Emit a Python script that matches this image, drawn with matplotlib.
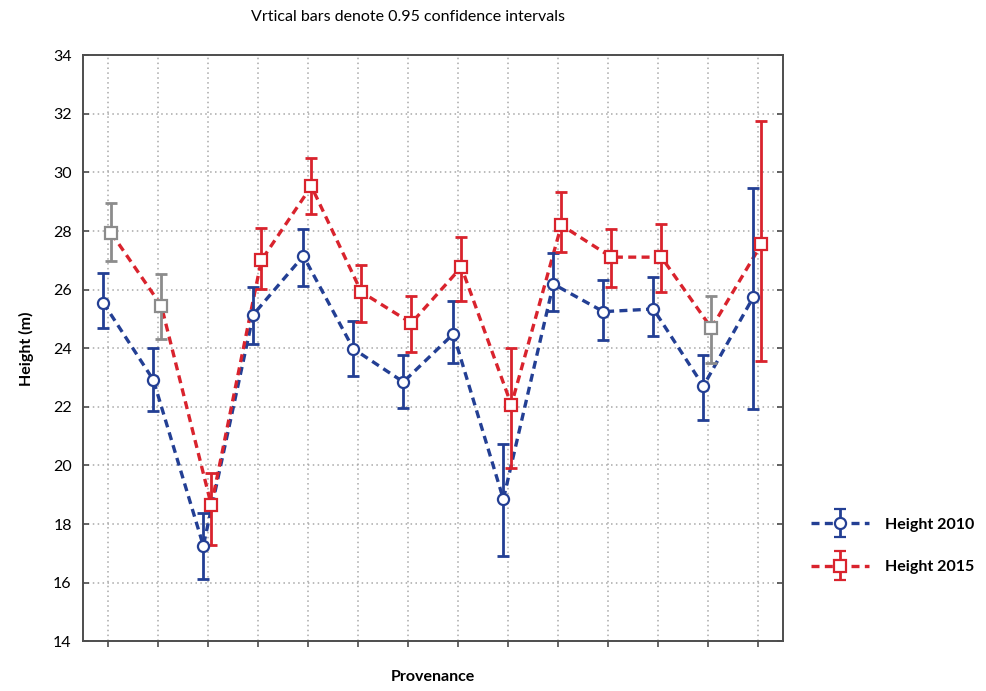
import numpy as np
import matplotlib
matplotlib.use('Agg')
import matplotlib.pyplot as plt
from matplotlib.container import ErrorbarContainer
from matplotlib.legend_handler import HandlerErrorbar

plt.rcParams['font.family'] = ['Lato', 'DejaVu Sans']

# provenance index (no labels on the axis)
provenance = list(range(1, 15))

# Height 2010: means and 0.95 CI bounds
h2010 = [25.55, 22.92, 17.26, 25.15, 27.15, 23.98, 22.85, 24.49, 18.85, 26.19, 25.25, 25.34, 22.71, 25.75]
h2010_hi = [26.57, 24.02, 18.39, 26.10, 28.07, 24.93, 23.77, 25.61, 20.74, 27.25, 26.34, 26.43, 23.77, 29.47]
h2010_lo = [24.70, 21.85, 16.13, 24.15, 26.12, 23.06, 21.96, 23.50, 16.90, 25.27, 24.28, 24.42, 21.56, 21.93]

# Height 2015
h2015 = [27.93, 25.45, 18.64, 27.00, 29.53, 25.92, 24.86, 26.77, 22.07, 28.20, 27.11, 27.11, 24.69, 27.55]
h2015_hi = [28.95, 26.53, 19.73, 28.12, 30.49, 26.84, 25.78, 27.80, 24.01, 29.33, 28.08, 28.25, 25.78, 31.75]
h2015_lo = [26.98, 24.30, 17.30, 26.02, 28.58, 24.90, 23.87, 25.61, 19.92, 27.28, 26.09, 25.92, 23.50, 23.57]

# points drawn in grey in the 2015 series
grey_2015 = [1, 2, 13]

BLUE = '#233f94'
RED = '#d9232d'
GREY = '#8c8c8c'

fig = plt.figure(figsize=(9.86, 6.91), dpi=100)
ax = fig.add_axes([0.084, 0.072, 0.710, 0.848])

x = np.array(provenance, dtype=float)
x10 = x - 0.09
x15 = x + 0.07

dash = (2.4, 1.6)

def draw_series(xs, y, lo, hi, color, marker, msize, greys=()):
    y = np.array(y)
    ax.plot(xs, y, color=color, lw=2.4, linestyle=(0, dash), zorder=2)
    for xi, yi, l, h, p in zip(xs, y, lo, hi, provenance):
        c = GREY if p in greys else color
        ax.errorbar([xi], [yi], yerr=[[yi - l], [h - yi]], fmt='none',
                    ecolor=c, elinewidth=2.0, capsize=4.5, capthick=2.0, zorder=3)
        ax.plot([xi], [yi], marker=marker, ms=msize, mfc='white', mec=c,
                mew=1.6, linestyle='none', zorder=4)

draw_series(x10, h2010, h2010_lo, h2010_hi, BLUE, 'o', 8)
draw_series(x15, h2015, h2015_lo, h2015_hi, RED, 's', 8, grey_2015)

# legend handles: dashed line + marker + error bar, drawn off-data
leg_handles = []
for color, marker in [(BLUE, 'o'), (RED, 's')]:
    eb = ax.errorbar([np.nan], [np.nan], yerr=[1], color=color, lw=2.4,
                     linestyle=(0, dash), marker=marker, ms=8, mfc='white',
                     mec=color, mew=1.6, elinewidth=2.0, capsize=4.5, capthick=2.0)
    leg_handles.append(eb)

ax.set_xlim(0.5, 14.5)
ax.set_ylim(14, 34)
ax.set_yticks(range(14, 35, 2))
ax.set_xticks(provenance)
ax.set_xticklabels([])
ax.grid(True, color='#a8a8a8', linestyle=(0, (1, 2.2)), lw=1.1)
ax.set_axisbelow(True)
for s in ax.spines.values():
    s.set_color('#4d4d4d')
    s.set_linewidth(1.4)
ax.tick_params(axis='y', direction='in', right=True, length=4, width=1.2,
               color='#4d4d4d', labelsize=11.5, pad=8)
ax.tick_params(axis='x', direction='out', length=4, width=1.2, color='#4d4d4d')

ax.set_ylabel('Height (m)', fontsize=11.5, fontweight='bold', labelpad=14)
fig.text(0.439, 0.010, 'Provenance', ha='center', va='bottom',
         fontsize=11.5, fontweight='bold')
fig.text(0.414, 0.976, 'Vrtical bars denote 0.95 confidence intervals',
         ha='center', va='center', fontsize=11.5)

# legend outside on the right
fig.legend(leg_handles, ['Height 2010', 'Height 2015'], loc='center left',
           bbox_to_anchor=(0.808, 0.21), frameon=False, handlelength=3.6,
           handletextpad=1.0, labelspacing=1.8,
           handler_map={ErrorbarContainer: HandlerErrorbar(xerr_size=0.5, yerr_size=0.9)},
           prop={'weight': 'bold', 'size': 11.5})

fig.savefig('out.png', dpi=100)
